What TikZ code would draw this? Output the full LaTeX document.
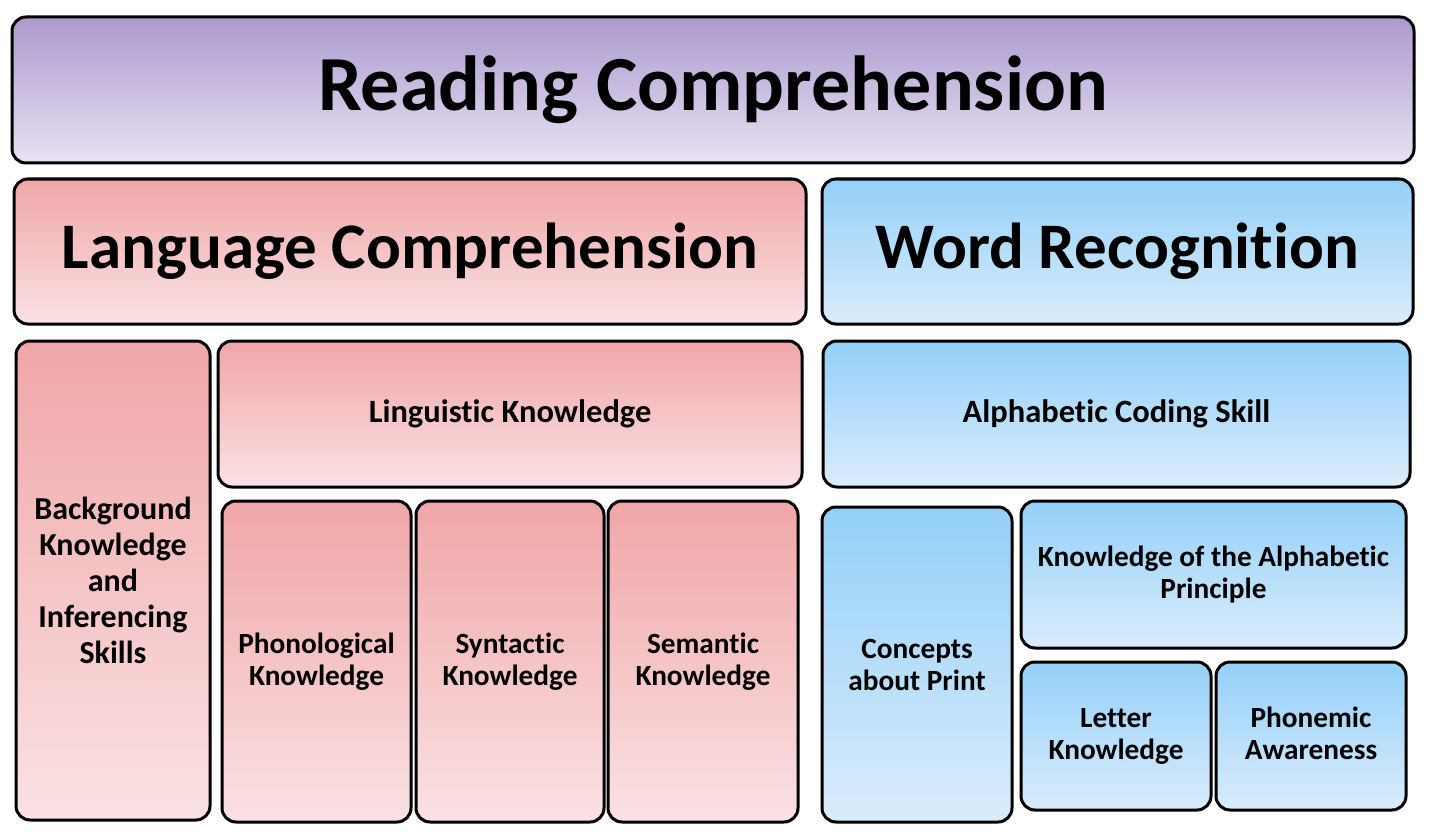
\documentclass[tikz,border=0pt]{standalone}
\usepackage{fontspec}
\setmainfont{Carlito}[Ligatures=NoCommon]
\usepackage{tikz}
\usetikzlibrary{positioning}
\usepackage{xcolor}
\definecolor{purpleTop}{RGB}{172,154,206}
\definecolor{purpleBot}{RGB}{232,226,242}
\definecolor{redTop}{RGB}{240,166,168}
\definecolor{redBot}{RGB}{250,226,228}
\definecolor{blueTop}{RGB}{148,208,248}
\definecolor{blueBot}{RGB}{218,236,251}

\begin{document}
\begin{tikzpicture}[
  x=1pt, y=-1pt,
  box/.style={draw, line width=3pt, rounded corners=14pt, align=center, inner sep=2pt},
  purplebox/.style={box, top color=purpleTop, bottom color=purpleBot},
  redbox/.style={box, top color=redTop, bottom color=redBot},
  bluebox/.style={box, top color=blueTop, bottom color=blueBot},
  huge/.style={font=\fontsize{78}{90}\selectfont\bfseries},
  big/.style={font=\fontsize{65}{78}\selectfont\bfseries},
  wide/.style={font=\fontsize{32.5}{36}\selectfont\bfseries},
  label/.style={font=\fontsize{29.3}{32}\selectfont\bfseries},
  tall/.style={font=\fontsize{32}{36}\selectfont\bfseries}
]
\useasboundingbox (0,0) rectangle (1430,832);

% Top level
\node[purplebox, huge, minimum width=1402pt, minimum height=146pt] (read) at (713, 90) {Reading Comprehension};

% Left side: Language Comprehension
\node[redbox, big, minimum width=792pt, minimum height=145pt] (lang) at (410, 251.5) {Language Comprehension};
\node[redbox, tall, minimum width=194pt, minimum height=479pt] (back) at (113, 580.5) {Background\\Knowledge\\and\\Inferencing\\Skills};
\node[redbox, wide, minimum width=584pt, minimum height=146pt] (ling) at (510, 414) {Linguistic Knowledge};
\node[redbox, label, minimum width=189pt, minimum height=321pt] (phon) at (316.5, 661.5) {Phonological\\Knowledge};
\node[redbox, label, minimum width=188pt, minimum height=321pt] (synt) at (510, 661.5) {Syntactic\\Knowledge};
\node[redbox, label, minimum width=190pt, minimum height=321pt] (sem) at (703, 661.5) {Semantic\\Knowledge};

% Right side: Word Recognition
\node[bluebox, big, minimum width=591pt, minimum height=145pt] (word) at (1117.5, 251.5) {Word Recognition};
\node[bluebox, wide, minimum width=587pt, minimum height=146pt] (code) at (1116.5, 414) {Alphabetic Coding Skill};
\node[bluebox, label, minimum width=190pt, minimum height=315pt] (print) at (917, 664.5) {Concepts\\about Print};
\node[bluebox, label, minimum width=385pt, minimum height=147pt] (princ) at (1213.5, 574.5) {Knowledge of the Alphabetic\\Principle};
\node[bluebox, label, minimum width=190pt, minimum height=148pt] (letter) at (1116, 736) {Letter\\Knowledge};
\node[bluebox, label, minimum width=190pt, minimum height=148pt] (phonem) at (1311, 736) {Phonemic\\Awareness\vphantom{g}};

\end{tikzpicture}
\end{document}
